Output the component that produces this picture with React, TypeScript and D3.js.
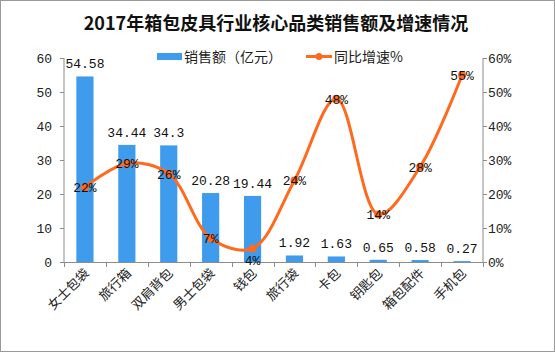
import React from "react";
import * as d3 from "d3";

const categories = ["女士包袋", "旅行箱", "双肩背包", "男士包袋", "钱包", "旅行袋", "卡包", "钥匙包", "箱包配件", "手机包"];
const sales = [54.58, 34.44, 34.3, 20.28, 19.44, 1.92, 1.63, 0.65, 0.58, 0.27];
const growth = [22, 29, 26, 7, 4, 24, 48, 14, 28, 55];
const leftTicks = [0, 10, 20, 30, 40, 50, 60];
const rightTicks = [0, 10, 20, 30, 40, 50, 60];
const title = "2017年箱包皮具行业核心品类销售额及增速情况";
const legendBar = "销售额（亿元）";
const legendLine = "同比增速%";

const W = 555, H = 352;
const left = 64, right = 483, top = 58, bottom = 262;
const BLUE = "#3f9ced";
const ORANGE = "#ff6a1f";
const AXIS = "#8c8c8c";
const CJK = "'Noto Sans CJK SC', sans-serif";
const MONO = "'Liberation Mono', 'DejaVu Sans Mono', monospace";

export default function App() {
  const x = d3.scaleBand<string>().domain(categories).range([left, right]).paddingInner(0.59).paddingOuter(0.295);
  const xc = d3.scaleBand<string>().domain(categories).range([left, right]);
  const y = d3.scaleLinear().domain([0, 60]).range([bottom, top]);
  const y2 = d3.scaleLinear().domain([0, 60]).range([bottom, top]);
  const pts: [number, number][] = categories.map((c, i) => [xc(c)! + xc.bandwidth() / 2, y2(growth[i])]);
  const line = d3.line().curve(d3.curveCatmullRom.alpha(0.5))(pts) || "";

  return (
    <svg width={W} height={H} style={{ position: "absolute", left: 0, top: 0, background: "#fff" }}>
      <rect x={0.5} y={0.5} width={W - 1} height={H - 1} fill="#fff" stroke="#9a9a9a" />
      <text x={276} y={30} textAnchor="middle" fontFamily={CJK} fontWeight="bold" fontSize={18} fill="#111">{title}</text>

      {/* legend */}
      <rect x={157} y={53} width={25} height={7} fill={BLUE} />
      <text x={184} y={61.5} fontFamily={CJK} fontSize={14} fill="#222">{legendBar}</text>
      <line x1={306} x2={332} y1={56.5} y2={56.5} stroke={ORANGE} strokeWidth={3} />
      <circle cx={319} cy={56.5} r={3.5} fill={ORANGE} />
      <text x={334} y={61.5} fontFamily={CJK} fontSize={14} fill="#222">{legendLine}</text>

      {/* bars */}
      {categories.map((c, i) => (
        <rect key={c} x={x(c)} y={y(sales[i])} width={x.bandwidth()} height={bottom - y(sales[i])} fill={BLUE} />
      ))}

      {/* axes */}
      <line x1={left} x2={left} y1={top} y2={bottom} stroke={AXIS} />
      <line x1={right} x2={right} y1={top} y2={bottom} stroke={AXIS} />
      <line x1={left} x2={right} y1={bottom + 0.5} y2={bottom + 0.5} stroke={AXIS} />
      {leftTicks.map((t) => (
        <g key={"l" + t}>
          <line x1={left - 4} x2={left} y1={Math.round(y(t)) + 0.5} y2={Math.round(y(t)) + 0.5} stroke={AXIS} />
          <text x={52} y={y(t) + 5} textAnchor="end" fontFamily={MONO} fontSize={13} fill="#222">{t}</text>
        </g>
      ))}
      {rightTicks.map((t) => (
        <g key={"r" + t}>
          <line x1={right} x2={right + 4} y1={Math.round(y2(t)) + 0.5} y2={Math.round(y2(t)) + 0.5} stroke={AXIS} />
          <text x={488} y={y2(t) + 5} textAnchor="start" fontFamily={MONO} fontSize={13} fill="#222">{t + "%"}</text>
        </g>
      ))}
      {categories.concat([""]).map((c, i) => {
        const xx = Math.round(left + i * xc.step()) + 0.5;
        return <line key={"xt" + i} x1={xx} x2={xx} y1={bottom} y2={bottom + 5} stroke={AXIS} />;
      })}
      {categories.map((c) => {
        const cx = xc(c)! + xc.bandwidth() / 2;
        return (
          <text key={"xl" + c} transform={`translate(${cx + 5},${bottom + 12}) rotate(-45)`} textAnchor="end" fontFamily={CJK} fontSize={13} fill="#222">{c}</text>
        );
      })}

      {/* bar labels */}
      {categories.map((c, i) => (
        <text key={"bl" + c} x={x(c)! + x.bandwidth() / 2} y={y(sales[i]) - 8} textAnchor="middle" fontFamily={MONO} fontSize={13} fill="#111">{String(sales[i])}</text>
      ))}

      {/* line */}
      <path d={line} fill="none" stroke={ORANGE} strokeWidth={3} />
      {pts.map((p, i) => (
        <circle key={"pt" + i} cx={p[0]} cy={p[1]} r={4} fill={ORANGE} />
      ))}
      {pts.map((p, i) => (
        <text key={"pl" + i} x={p[0]} y={p[1] + (i === 4 ? 17 : 5)} textAnchor="middle" fontFamily={MONO} fontSize={13} fill="#111">{growth[i] + "%"}</text>
      ))}
    </svg>
  );
}
